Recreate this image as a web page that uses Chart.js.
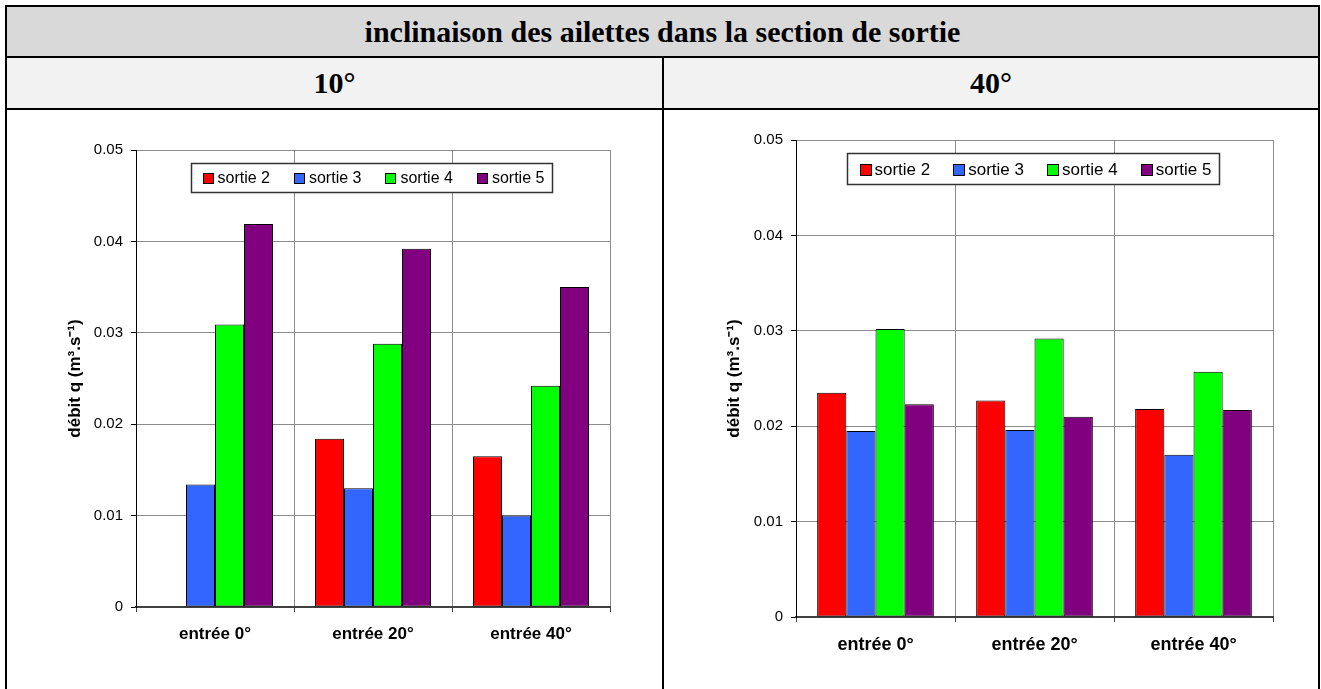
<!DOCTYPE html>
<html lang="fr">
<head>
<meta charset="utf-8">
<title>inclinaison des ailettes dans la section de sortie</title>
<script src="https://cdn.jsdelivr.net/npm/chart.js@4.4.1/dist/chart.umd.min.js"></script>
<style>
  html, body { margin: 0; padding: 0; background: #fff; width: 1321px; height: 689px; overflow: hidden; }
  .line { position: absolute; background: #000; }
  .cell { position: absolute; display: flex; align-items: center; justify-content: center;
          font-family: "Liberation Serif", "Times New Roman", serif; font-weight: bold; color: #000; }
  .chart-box { position: absolute; }
</style>
</head>
<body>
<div class="cell" style="left:7px;top:7px;width:1311px;height:49px;background:#d9d9d9;font-size:30px;">inclinaison des ailettes dans la section de sortie</div>
<div class="cell" style="left:7px;top:58px;width:655px;height:50px;background:#f2f2f2;font-size:30px;">10°</div>
<div class="cell" style="left:664px;top:58px;width:654px;height:50px;background:#f2f2f2;font-size:30px;">40°</div>

<div class="line" style="left:5px;top:5px;width:1315px;height:2px;"></div>
<div class="line" style="left:5px;top:56px;width:1315px;height:2px;"></div>
<div class="line" style="left:5px;top:108px;width:1315px;height:2px;"></div>
<div class="line" style="left:5px;top:5px;width:2px;height:684px;"></div>
<div class="line" style="left:1318px;top:5px;width:2px;height:684px;"></div>
<div class="line" style="left:662px;top:56px;width:2px;height:633px;"></div>

<div class="chart-box" style="left:7px;top:110px;"><canvas id="chart10" width="655" height="579"></canvas></div>
<div class="chart-box" style="left:665px;top:110px;"><canvas id="chart40" width="653" height="579"></canvas></div>

<script>
const categories = ["entrée 0°", "entrée 20°", "entrée 40°"];
const seriesNames = ["sortie 2", "sortie 3", "sortie 4", "sortie 5"];
const seriesColors = ["#ff0000", "#3366ff", "#00ff00", "#800080"];
const yTicks = [0, 0.01, 0.02, 0.03, 0.04, 0.05];

// ailettes a 10°
const sortie2_10 = [null, 0.0184, 0.0165];
const sortie3_10 = [0.0134, 0.0130, 0.0100];
const sortie4_10 = [0.0309, 0.0288, 0.0242];
const sortie5_10 = [0.0419, 0.0392, 0.0350];

// ailettes a 40°
const sortie2_40 = [0.0235, 0.0227, 0.0218];
const sortie3_40 = [0.0195, 0.0196, 0.0170];
const sortie4_40 = [0.0302, 0.0292, 0.0257];
const sortie5_40 = [0.0223, 0.0210, 0.0217];

const sans = "'Liberation Sans', Arial, sans-serif";

// Excel style legend: one row in a white framed box inside the plot area
const legendFrame = {
  id: "legendFrame",
  afterDatasetsDraw(chart, args, o) {
    const { ctx, chartArea } = chart;
    ctx.save();
    ctx.font = o.fontSize + "px " + sans;
    const widths = seriesNames.map((n) => o.box + o.gap + ctx.measureText(n).width);
    const total = widths.reduce((a, b) => a + b, 0) + o.spacing * (widths.length - 1);
    const cx = (chartArea.left + chartArea.right) / 2;
    const x0 = Math.round(cx - total / 2 - o.padLeft) + 0.5;
    const y0 = chartArea.top + o.top + 0.5;
    const w = Math.round(total + o.padLeft + o.padRight);

    ctx.fillStyle = "#fff";
    ctx.fillRect(x0, y0, w, o.height);
    ctx.strokeStyle = "#333";
    ctx.lineWidth = 1.5;
    ctx.strokeRect(x0, y0, w, o.height);

    const cy = y0 + o.height / 2;
    let x = x0 + o.padLeft;
    seriesNames.forEach((name, i) => {
      const bx = Math.round(x) + 0.5;
      const by = Math.round(cy - o.box / 2) + 0.5;
      ctx.fillStyle = seriesColors[i];
      ctx.fillRect(bx, by, o.box, o.box);
      ctx.strokeStyle = "#000";
      ctx.lineWidth = 1;
      ctx.strokeRect(bx, by, o.box, o.box);
      ctx.fillStyle = "#000";
      ctx.textBaseline = "middle";
      ctx.textAlign = "left";
      ctx.fillText(name, x + o.box + o.gap, cy + 1);
      x += widths[i] + o.spacing;
    });
    ctx.restore();
  },
};

function buildChart(id, values, opts) {
  const ctx = document.getElementById(id);
  return new Chart(ctx, {
    type: "bar",
    data: {
      labels: categories,
      datasets: values.map((data, i) => ({
        label: seriesNames[i],
        data: data,
        backgroundColor: seriesColors[i],
        borderColor: "#000",
        borderWidth: 1,
        borderSkipped: false,
        categoryPercentage: 0.734,
        barPercentage: 1,
      })),
    },
    options: {
      responsive: false,
      animation: false,
      devicePixelRatio: 1,
      layout: { padding: opts.padding },
      plugins: {
        tooltip: { enabled: false },
        legend: { display: false },
        legendFrame: opts.legend,
      },
      scales: {
        x: {
          afterFit: (scale) => { scale.height = 40; },
          grid: { offset: true, color: "#8c8c8c", lineWidth: 1, tickLength: 5, tickColor: "#404040" },
          border: { color: "#404040", width: 2 },
          ticks: {
            color: "#000",
            autoSkip: false,
            maxRotation: 0,
            padding: 12,
            font: { family: sans, size: opts.xFont, weight: "bold" },
          },
        },
        y: {
          min: 0,
          max: 0.05,
          afterFit: (scale) => { scale.width = opts.yWidth; },
          afterBuildTicks: (scale) => { scale.ticks = yTicks.map((v) => ({ value: v })); },
          grid: { color: "#8c8c8c", lineWidth: 1, tickLength: 5, tickColor: "#000" },
          border: { color: "#000", width: 1 },
          title: {
            display: true,
            text: "débit q (m³.s⁻¹)",
            color: "#000",
            padding: { top: 4, bottom: 4 },
            font: { family: sans, size: 17, weight: "bold" },
          },
          ticks: {
            color: "#000",
            padding: 8,
            font: { family: sans, size: 15 },
            callback: (v) => (v === 0 ? "0" : Number(v).toFixed(2)),
          },
        },
      },
    },
    plugins: [legendFrame],
  });
}

buildChart("chart10", [sortie2_10, sortie3_10, sortie4_10, sortie5_10], {
  padding: { left: 54, right: 52, top: 40, bottom: 42 },
  yWidth: 75,
  xFont: 17,
  legend: { fontSize: 16, box: 10, gap: 5, spacing: 24, padLeft: 11, padRight: 8, top: 13, height: 29 },
});

buildChart("chart40", [sortie2_40, sortie3_40, sortie4_40, sortie5_40], {
  padding: { left: 55, right: 45, top: 30, bottom: 32 },
  yWidth: 76,
  xFont: 18,
  legend: { fontSize: 17, box: 11, gap: 4, spacing: 23, padLeft: 12, padRight: 8, top: 13, height: 31 },
});
</script>
</body>
</html>
